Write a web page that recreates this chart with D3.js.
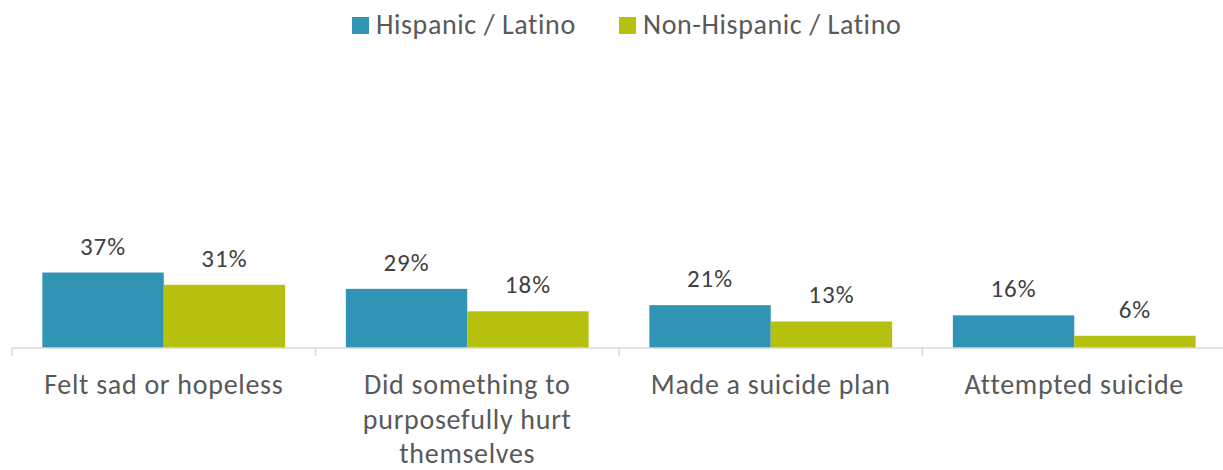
<!DOCTYPE html>
<html>
<head>
<meta charset="utf-8">
<script src="https://cdn.jsdelivr.net/npm/d3@7"></script>
<style>
  body { margin: 0; background: #fff; }
  svg { display: block; font-family: Carlito, Calibri, Lato, sans-serif; }
</style>
</head>
<body>
<svg id="chart" width="1223" height="470"></svg>
<script>
var categories = ["Felt sad or hopeless", "Did something to purposefully hurt themselves", "Made a suicide plan", "Attempted suicide"];
var seriesNames = ["Hispanic / Latino", "Non-Hispanic / Latino"];
var hispanic = [37, 29, 21, 16];
var nonHispanic = [31, 18, 13, 6];
var colors = ["#3194b4", "#b6c10f"];

var margin = {top: 144, left: 12, right: -3, bottom: 122},
    width = 1223 - margin.left - margin.right,
    height = 470 - margin.top - margin.bottom;

var svg = d3.select("#chart");
var graph = svg.append("g")
    .attr("transform", "translate(" + margin.left + "," + margin.top + ")");

var x0 = d3.scaleBand().domain(categories).range([0, width]).paddingInner(0).paddingOuter(0);
var x1 = d3.scaleBand().domain(seriesNames).range([0, x0.bandwidth()]).paddingInner(0).paddingOuter(0.25);
var y = d3.scaleLinear().domain([0, 100]).range([height, 0]);

var data = categories.map(function(c, i) {
    return {cat: c, values: [
        {name: seriesNames[0], v: hispanic[i]},
        {name: seriesNames[1], v: nonHispanic[i]}
    ]};
});

// bars
var groups = graph.selectAll(".grp").data(data).enter().append("g")
    .attr("class", "grp")
    .attr("transform", function(d) { return "translate(" + x0(d.cat) + ",0)"; });

groups.selectAll("rect").data(function(d) { return d.values; }).enter().append("rect")
    .attr("x", function(d) { return x1(d.name); })
    .attr("y", function(d) { return y(d.v); })
    .attr("width", x1.bandwidth())
    .attr("height", function(d) { return height - y(d.v); })
    .attr("fill", function(d, i) { return colors[i]; });

groups.selectAll(".val").data(function(d) { return d.values; }).enter().append("text")
    .attr("class", "val")
    .attr("x", function(d) { return x1(d.name) + x1.bandwidth() / 2; })
    .attr("y", function(d) { return y(d.v) - 18; })
    .attr("text-anchor", "middle")
    .attr("fill", "#404040")
    .style("font-size", "25px")
    .style("letter-spacing", "1px")
    .text(function(d) { return d.v + "%"; });

// axis line + boundary ticks
graph.append("line")
    .attr("x1", 0).attr("x2", width)
    .attr("y1", height).attr("y2", height)
    .attr("stroke", "#d9d9d9").attr("stroke-width", 1.5);

var bounds = categories.map(function(c) { return x0(c); }).concat([width]);
graph.selectAll(".tick").data(bounds).enter().append("line")
    .attr("class", "tick")
    .attr("x1", function(d) { return d; }).attr("x2", function(d) { return d; })
    .attr("y1", height).attr("y2", height + 8)
    .attr("stroke", "#d9d9d9").attr("stroke-width", 1.5);

// category labels, wrapped
var labels = graph.selectAll(".cat").data(categories).enter().append("text")
    .attr("class", "cat")
    .attr("x", function(d) { return x0(d) + x0.bandwidth() / 2; })
    .attr("y", height + 46)
    .attr("text-anchor", "middle")
    .attr("fill", "#595959")
    .style("font-size", "28px")
    .style("letter-spacing", "0.7px");

labels.each(function(d) {
    var el = d3.select(this), words = d.split(" "), line = [];
    var cx = el.attr("x");
    var tspan = el.append("tspan").attr("x", cx).attr("dy", 0);
    words.forEach(function(w) {
        line.push(w);
        tspan.text(line.join(" "));
        if (tspan.node().getComputedTextLength() > 255 && line.length > 1) {
            line.pop();
            tspan.text(line.join(" "));
            line = [w];
            tspan = el.append("tspan").attr("x", cx).attr("dy", 34.5).text(w);
        }
    });
});

// legend
var legend = svg.append("g");
var lx = [352, 619];
seriesNames.forEach(function(s, i) {
    legend.append("rect")
        .attr("x", lx[i]).attr("y", 17)
        .attr("width", 17).attr("height", 17)
        .attr("fill", colors[i]);
    legend.append("text")
        .attr("x", lx[i] + 24).attr("y", 34)
        .attr("fill", "#595959")
        .style("font-size", "28px")
        .style("letter-spacing", "0.6px")
        .text(s);
});
</script>
</body>
</html>
